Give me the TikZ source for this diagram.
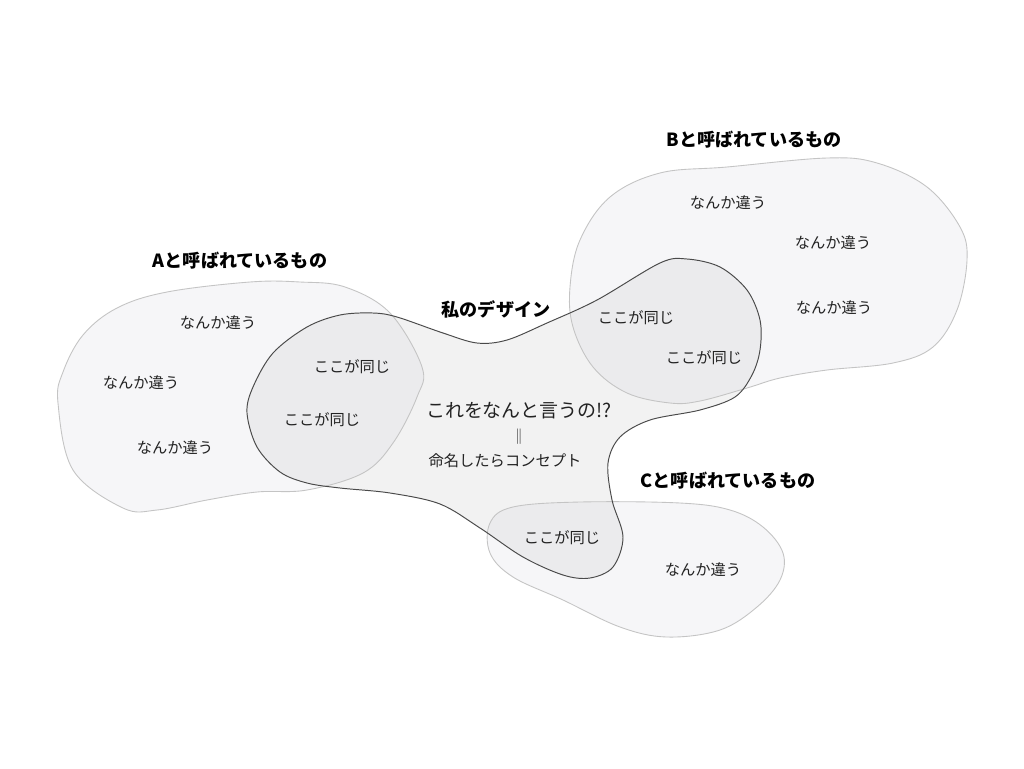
\documentclass[tikz,border=0pt]{standalone}
\usepackage{fontspec}
\newfontfamily\cjk{Noto Sans CJK JP}
\definecolor{blobfill}{HTML}{F6F6F8}
\definecolor{mainfill}{HTML}{F2F2F2}
\definecolor{overfill}{HTML}{EBEBED}
\definecolor{blobline}{HTML}{C4C4C4}
\definecolor{mainline}{HTML}{4A4A4A}
\definecolor{txt}{HTML}{222222}
\tikzset{
  body/.style={font=\cjk\fontsize{8.7}{10}\selectfont, text=txt, inner sep=0pt},
  bigline/.style={font=\cjk\fontsize{10.8}{12}\selectfont, text=txt, inner sep=0pt},
  heading/.style={font=\cjk\bfseries\fontsize{10.3}{12}\selectfont, text=black, inner sep=0pt},
  blobedge/.style={draw=blobline, line width=0.5pt},
  mainedge/.style={draw=mainline, line width=0.55pt},
}
\begin{document}
\begin{tikzpicture}[x=0.02cm,y=-0.02cm]
\useasboundingbox (0,0) rectangle (1024,768);
\fill[white] (0,0) rectangle (1024,768);
% paths
\path[save path=\pA] plot[smooth cycle, tension=0.6] coordinates {
 (167,292) (250,282) (300,282) (345,287) (390,313) (422,367) (417,397) (393,443) (363,473)
 (307,490) (257,492) (207,500) (157,510) (123,508) (73,470) (58,403) (63,372) (83,335) (117,308)};
\path[save path=\pB] plot[smooth cycle, tension=0.6] coordinates {
 (570,287) (580,240) (610,197) (660,173) (727,167) (827,158) (877,163) (927,187)
 (960,227) (967,260) (957,310) (933,347) (893,363) (827,370) (780,378) (747,388)
 (700,401) (670,403) (627,393) (593,367) (573,327)};
\path[save path=\pC] plot[smooth cycle, tension=0.6] coordinates {
 (513,507) (580,502) (680,503) (730,510) (763,527) (783,553) (780,580) (757,607)
 (720,630) (667,637) (620,627) (563,600) (513,577) (490,553) (490,523)};
\path[save path=\pM] plot[smooth cycle, tension=0.55] coordinates {
 (247,413) (253,387) (273,353) (307,327) (340,315) (373,313) (397,317) (443,333)
 (477,343) (507,340) (547,323) (597,300) (660,263) (687,259) (720,267) (747,290)
 (760,320) (760,350) (752,375) (735,397) (700,410) (650,420) (620,437) (608,463)
 (612,500) (623,537) (613,567) (590,578) (563,575) (523,557) (480,528) (440,504)
 (390,493) (340,488) (307,483) (280,472) (257,447)};
% fills
\fill[blobfill, use path=\pA];
\fill[blobfill, use path=\pB];
\fill[blobfill, use path=\pC];
\fill[mainfill, use path=\pM];
\begin{scope}
 \clip[use path=\pM];
 \fill[overfill, use path=\pA];
 \fill[overfill, use path=\pB];
 \fill[overfill, use path=\pC];
\end{scope}
% outlines
\path[blobedge, use path=\pA];
\path[blobedge, use path=\pB];
\path[blobedge, use path=\pC];
\path[mainedge, use path=\pM];
% headings
\node[heading] (hA) at (240,261) {Aと呼ばれているもの};
\node[heading] (hB) at (754,140) {Bと呼ばれているもの};
\node[heading] (hC) at (728,481) {Cと呼ばれているもの};
\node[heading] (hM) at (496,309) {私のデザイン};
% A texts
\node[body] (a1) at (218,323) {なんか違う};
\node[body] (a2) at (141,383) {なんか違う};
\node[body] (a3) at (175,448) {なんか違う};
\node[body] (a4) at (352,367) {ここが同じ};
\node[body] (a5) at (322,420) {ここが同じ};
% B texts
\node[body] (b1) at (728,203) {なんか違う};
\node[body] (b2) at (833,243) {なんか違う};
\node[body] (b3) at (834,308) {なんか違う};
\node[body] (b4) at (636,318) {ここが同じ};
\node[body] (b5) at (704,358) {ここが同じ};
% C texts
\node[body] (c1) at (703,570) {なんか違う};
\node[body] (c2) at (562,538) {ここが同じ};
% center
\node[bigline] (m1) at (519,411) {これをなんと言うの!?};
\node[body] (m2) at (519,437) {‖};
\node[body] (m3) at (505,461) {命名したらコンセプト};
\end{tikzpicture}
\end{document}
